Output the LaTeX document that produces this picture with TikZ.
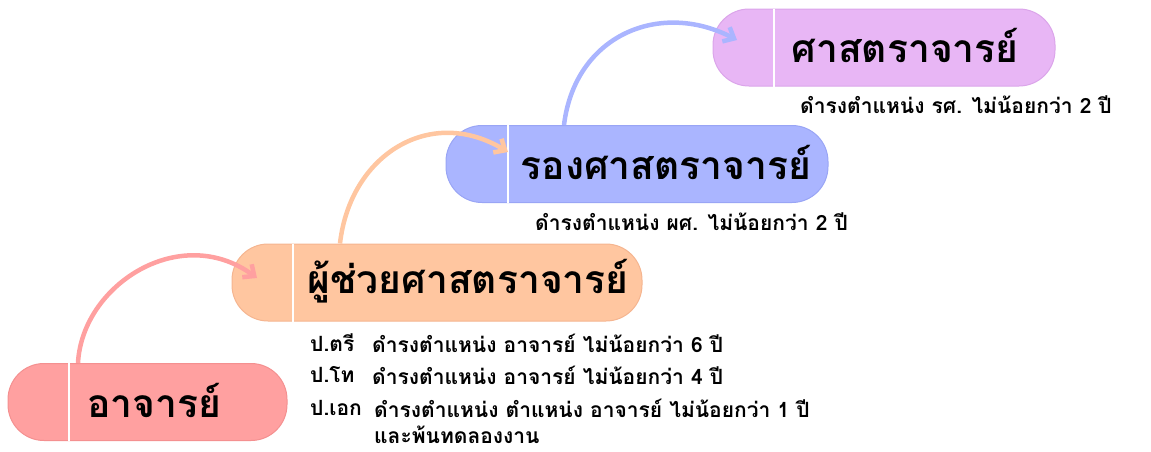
\documentclass[tikz,border=0pt]{standalone}
\usepackage{fontspec}
\newfontfamily\thaifont[Script=Thai]{Loma}
\usetikzlibrary{arrows.meta}
\definecolor{cpink}{HTML}{FFA0A0}
\definecolor{cpinkd}{HTML}{F49090}
\definecolor{cpeach}{HTML}{FFC6A0}
\definecolor{cpeachd}{HTML}{F5B590}
\definecolor{cblue}{HTML}{AAB5FF}
\definecolor{cblued}{HTML}{99A5F5}
\definecolor{cviolet}{HTML}{E8B6F5}
\definecolor{cvioletd}{HTML}{DBA5EA}
\tikzset{
  pill/.style={draw=#1, line width=1pt, rectangle, rounded corners=36pt, minimum height=77pt, inner sep=0pt},
  divider/.style={draw=white, line width=2.5pt},
  title/.style={font=\thaifont\bfseries\fontsize{39}{44}\selectfont, text=black, inner sep=0pt},
  desc/.style={font=\thaifont\bfseries\fontsize{21}{26}\selectfont, text=black, inner sep=0pt, anchor=west},
  flow/.style={draw=#1, line width=4.5pt, -{Straight Barb[length=9pt,width=16pt]}}
}
\begin{document}
\begin{tikzpicture}[x=1pt,y=-1pt]
\useasboundingbox (0,0) rectangle (1151,451);
% pills
\node[pill=cpinkd, fill=cpink, minimum width=279pt] (p1) at (147.5,402) {};
\node[pill=cpeachd, fill=cpeach, minimum width=410pt] (p2) at (437,282.5) {};
\node[pill=cblued, fill=cblue, minimum width=382pt] (p3) at (637,164) {};
\node[pill=cvioletd, fill=cviolet, minimum width=342pt] (p4) at (884,47.5) {};
% dividers
\coordinate (d1) at (69,0);
\coordinate (d2) at (293,0);
\coordinate (d3) at (508,0);
\coordinate (d4) at (774,0);
\draw[divider] (p1.north -| d1) -- (p1.south -| d1);
\draw[divider] (p2.north -| d2) -- (p2.south -| d2);
\draw[divider] (p3.north -| d3) -- (p3.south -| d3);
\draw[divider] (p4.north -| d4) -- (p4.south -| d4);
% titles
\node[title] (t1) at (154,400) {อาจารย์};
\node[title] (t2) at (468,281) {ผู้ช่วยศาสตราจารย์};
\node[title] (t3) at (666,162) {รองศาสตราจารย์};
\node[title] (t4) at (905,45) {ศาสตราจารย์};
% arrows
\coordinate (s1) at (78,0);
\coordinate (e1) at (257,278);
\coordinate (s2) at (340,0);
\coordinate (e2) at (508,152);
\coordinate (s3) at (564,0);
\coordinate (e3) at (737,40);
\draw[flow=cpink] (p1.north -| s1) .. controls (82,285) and (180,222) .. (e1);
\draw[flow=cpeach] (p2.north -| s2) .. controls (350,155) and (430,105) .. (e2);
\draw[flow=cblue] (p3.north -| s3) .. controls (575,35) and (660,0) .. (e3);
% descriptions
\node[desc] (r4) at (800,105) {ดำรงตำแหน่ง รศ. ไม่น้อยกว่า 2 ปี};
\node[desc] (r3) at (535,222) {ดำรงตำแหน่ง ผศ. ไม่น้อยกว่า 2 ปี};
\node[desc] (a1) at (310,343) {ป.ตรี};
\node[desc] (b1) at (372,343) {ดำรงตำแหน่ง อาจารย์ ไม่น้อยกว่า 6 ปี};
\node[desc] (a2) at (310,375) {ป.โท};
\node[desc] (b2) at (372,375) {ดำรงตำแหน่ง อาจารย์ ไม่น้อยกว่า 4 ปี};
\node[desc] (a3) at (310,408) {ป.เอก};
\node[desc] (b3) at (374,408) {ดำรงตำแหน่ง ตำแหน่ง อาจารย์ ไม่น้อยกว่า 1 ปี};
\node[desc] (b4) at (374,435) {และพ้นทดลองงาน};
\end{tikzpicture}
\end{document}
